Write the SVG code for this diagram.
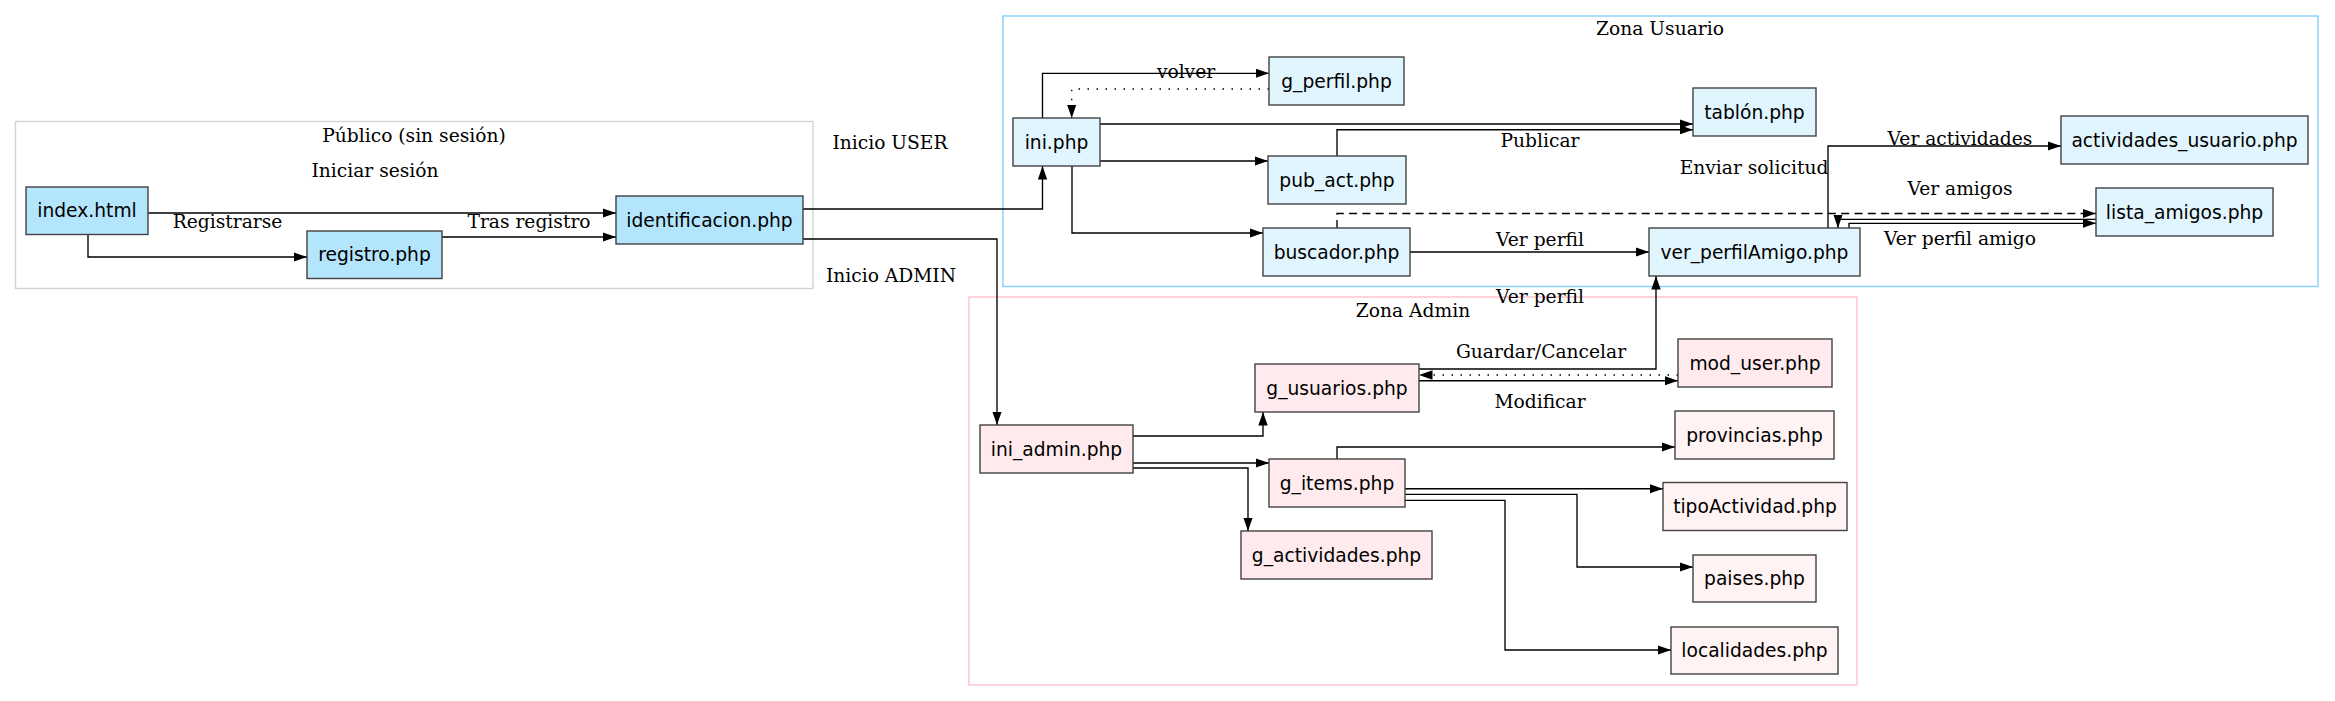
<svg xmlns="http://www.w3.org/2000/svg" width="2335" height="701" viewBox="0 0 2335 701">
<style>
.bg{fill:#ffffff}
.cl{fill:none;stroke-width:1.4}
.clp{stroke:#d3d3d3}
.clu{stroke:#87cefa}
.cla{stroke:#ffc0cb}
.n rect{stroke:#424242;stroke-width:1.4}
.pub rect{fill:#b3e5fc}
.usr rect{fill:#e1f5fe}
.adm rect{fill:#ffebee}
.adm2 rect{fill:#fff3f3}
.n text{font-family:"DejaVu Sans",sans-serif;font-size:18.67px;fill:#000;text-anchor:middle}
.lbl{font-family:"DejaVu Serif",serif;font-size:18.67px;fill:#000;text-anchor:middle}
.e path{fill:none;stroke:#000;stroke-width:1.35;marker-end:url(#ah)}
.e path.dot{stroke-dasharray:1.5,7.5}
.e path.dash{stroke-dasharray:8,5.3}
</style>
<defs>
<marker id="ah" markerUnits="userSpaceOnUse" markerWidth="14" markerHeight="10" viewBox="0 0 14 10" refX="13.5" refY="5" orient="auto">
<path d="M0,0.3 L13.5,5 L0,9.7 z" fill="#000"/>
</marker>
</defs>
<rect class="bg" x="0" y="0" width="2335" height="701"/>

<g id="clusters">
<rect class="cl clp" x="15.5" y="121.5" width="797.5" height="167"/>
<text class="lbl" x="414" y="142">Público (sin sesión)</text>
<rect class="cl clu" x="1003" y="16" width="1315" height="270.5"/>
<text class="lbl" x="1660" y="35">Zona Usuario</text>
<rect class="cl cla" x="969" y="297" width="888" height="388"/>
<text class="lbl" x="1413" y="317">Zona Admin</text>
</g>

<g id="connectors" class="e">
<path d="M148,213 H616"/>
<path d="M88,234.5 V257 H307"/>
<path d="M442,237 H616"/>
<path d="M803,209 H1042.5 V166"/>
<path d="M803,239 H997 V425"/>
<path d="M1042.5,118 V73.3 H1269"/>
<path class="dot" d="M1269,89 H1071.7 V118"/>
<path d="M1100,124 H1693"/>
<path d="M1337,156 V129.7 H1693"/>
<path d="M1100,161 H1268"/>
<path d="M1072,166 V233 H1263"/>
<path class="dash" d="M1337,228 V213.5 H2096"/>
<path d="M1410,252 H1649"/>
<path d="M1828,228 V146 H2061"/>
<path d="M1849,228 V223.3 H2096"/>
<path d="M2096,219.3 H1838 V228"/>
<path d="M1133,436 H1263 V412"/>
<path d="M1133,463 H1269"/>
<path d="M1133,468 H1248 V531"/>
<path d="M1419,369 H1656 V276"/>
<path class="dot" d="M1678,375 H1419"/>
<path d="M1419,380.7 H1678"/>
<path d="M1337,459 V447 H1675"/>
<path d="M1405,488.7 H1663"/>
<path d="M1405,494.3 H1577 V567 H1693"/>
<path d="M1405,500.3 H1505 V650 H1671"/>
</g>

<g id="edge-labels">
<text class="lbl" x="375" y="177">Iniciar sesión</text>
<text class="lbl" x="227.5" y="228">Registrarse</text>
<text class="lbl" x="529" y="228">Tras registro</text>
<text class="lbl" x="890" y="149">Inicio USER</text>
<text class="lbl" x="891" y="282">Inicio ADMIN</text>
<text class="lbl" x="1186" y="78">volver</text>
<text class="lbl" x="1540" y="147">Publicar</text>
<text class="lbl" x="1754" y="174">Enviar solicitud</text>
<text class="lbl" x="1540" y="246">Ver perfil</text>
<text class="lbl" x="1960" y="145">Ver actividades</text>
<text class="lbl" x="1960" y="195">Ver amigos</text>
<text class="lbl" x="1960" y="245">Ver perfil amigo</text>
<text class="lbl" x="1540" y="303">Ver perfil</text>
<text class="lbl" x="1541" y="358">Guardar/Cancelar</text>
<text class="lbl" x="1540" y="408">Modificar</text>
</g>

<g id="index" class="n pub"><rect x="26" y="187" width="122" height="47.5"/><text x="87" y="217">index.html</text></g>
<g id="registro" class="n pub"><rect x="307" y="231" width="135" height="47.5"/><text x="374.5" y="261">registro.php</text></g>
<g id="identificacion" class="n pub"><rect x="616" y="196" width="187" height="48"/><text x="709.5" y="226.5">identificacion.php</text></g>

<g id="ini" class="n usr"><rect x="1013" y="118" width="87" height="48"/><text x="1056.5" y="148.5">ini.php</text></g>
<g id="g_perfil" class="n usr"><rect x="1269" y="57" width="135" height="48"/><text x="1336.5" y="87.5">g_perfil.php</text></g>
<g id="pub_act" class="n usr"><rect x="1268" y="156" width="138" height="48"/><text x="1337" y="186.5">pub_act.php</text></g>
<g id="buscador" class="n usr"><rect x="1263" y="228" width="147" height="48"/><text x="1336.5" y="258.5">buscador.php</text></g>
<g id="tablon" class="n usr"><rect x="1693" y="88" width="123" height="48"/><text x="1754.5" y="118.5">tablón.php</text></g>
<g id="actividades_usuario" class="n usr"><rect x="2061" y="116" width="247" height="48"/><text x="2184.5" y="146.5">actividades_usuario.php</text></g>
<g id="lista_amigos" class="n usr"><rect x="2096" y="188" width="177" height="48"/><text x="2184.5" y="218.5">lista_amigos.php</text></g>
<g id="ver_perfilAmigo" class="n usr"><rect x="1649" y="228" width="211" height="48"/><text x="1754.5" y="258.5">ver_perfilAmigo.php</text></g>

<g id="ini_admin" class="n adm"><rect x="980" y="425" width="153" height="48"/><text x="1056.5" y="455.5">ini_admin.php</text></g>
<g id="g_usuarios" class="n adm"><rect x="1255" y="364" width="164" height="48"/><text x="1337" y="394.5">g_usuarios.php</text></g>
<g id="mod_user" class="n adm"><rect x="1678" y="339" width="154" height="48"/><text x="1755" y="369.5">mod_user.php</text></g>
<g id="g_items" class="n adm"><rect x="1269" y="459" width="136" height="48"/><text x="1337" y="489.5">g_items.php</text></g>
<g id="g_actividades" class="n adm"><rect x="1241" y="531" width="191" height="48"/><text x="1336.5" y="561.5">g_actividades.php</text></g>
<g id="provincias" class="n adm2"><rect x="1675" y="411" width="159" height="48"/><text x="1754.5" y="441.5">provincias.php</text></g>
<g id="tipoActividad" class="n adm2"><rect x="1663" y="482.5" width="184" height="48"/><text x="1755" y="513">tipoActividad.php</text></g>
<g id="paises" class="n adm2"><rect x="1693" y="555" width="123" height="47"/><text x="1754.5" y="585">paises.php</text></g>
<g id="localidades" class="n adm2"><rect x="1671" y="627" width="167" height="47"/><text x="1754.5" y="657">localidades.php</text></g>
</svg>
